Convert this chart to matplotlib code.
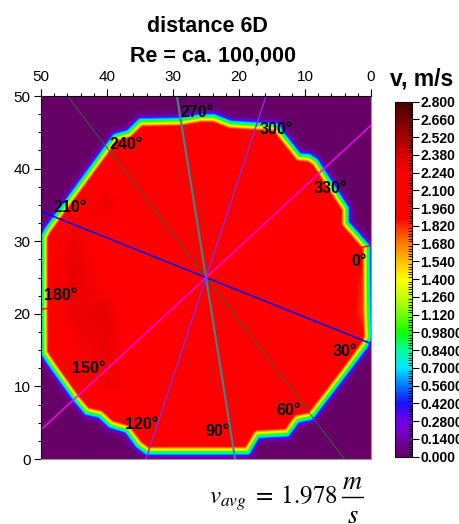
import numpy as np
import matplotlib
matplotlib.use("Agg")
import matplotlib.pyplot as plt
from matplotlib.colors import LinearSegmentedColormap
from matplotlib.lines import Line2D
from matplotlib.path import Path
from matplotlib.ticker import MultipleLocator

plt.rcParams['font.family'] = ['Liberation Sans', 'DejaVu Sans']
plt.rcParams['mathtext.fontset'] = 'stix'

# Outline of the flow cross-section (mid-level of the wall gradient), x/y in mm
edge_x = [0.4, 0.65, 3.9, 3.9, 8.5, 9.5, 11.0, 13.8, 14.3, 21.4, 23.9, 25.9,
          28.9, 35.0, 36.8, 38.8, 49.1, 49.6, 49.6, 48.6, 44.6, 43.1, 41.1,
          39.5, 37.0, 35.3, 34.0, 18.8, 17.3, 12.8, 11.3, 9.2, 0.9]
edge_y = [16.8, 29.2, 32.5, 34.5, 41.0, 41.6, 41.7, 44.9, 45.8, 46.2, 47.1, 47.1,
          46.6, 46.5, 44.9, 44.4, 31.5, 30.6, 14.6, 13.2, 8.1, 6.5, 6.1,
          4.7, 4.0, 1.9, 1.0, 1.0, 3.3, 3.5, 5.4, 5.8, 15.7]

# Core velocity on a coarse 5 mm grid, m/s (rows: y = 0..50, columns: x = 0..50)
core_x = [0, 5, 10, 15, 20, 25, 30, 35, 40, 45, 50]
core_y = [0, 5, 10, 15, 20, 25, 30, 35, 40, 45, 50]
core_v = [
    [2.10, 2.10, 2.10, 2.10, 2.10, 2.10, 2.10, 2.10, 2.10, 2.10, 2.10],
    [2.10, 2.10, 2.10, 2.10, 2.10, 2.10, 2.10, 2.12, 2.15, 2.12, 2.10],
    [2.10, 2.10, 2.10, 2.10, 2.10, 2.10, 2.10, 2.25, 2.28, 2.20, 2.10],
    [1.95, 2.10, 2.10, 2.10, 2.10, 2.10, 2.10, 2.18, 2.30, 2.25, 2.15],
    [1.70, 2.05, 2.10, 2.10, 2.10, 2.10, 2.10, 2.12, 2.32, 2.30, 2.20],
    [1.75, 2.05, 2.10, 2.10, 2.10, 2.10, 2.10, 2.12, 2.22, 2.32, 2.20],
    [2.00, 2.10, 2.10, 2.10, 2.10, 2.10, 2.10, 2.12, 2.20, 2.30, 2.20],
    [2.10, 2.10, 2.10, 2.10, 2.10, 2.10, 2.10, 2.15, 2.30, 2.22, 2.15],
    [2.10, 2.10, 2.10, 2.10, 2.10, 2.10, 2.10, 2.12, 2.20, 2.15, 2.10],
    [2.10, 2.10, 2.10, 2.10, 2.10, 2.10, 2.10, 2.10, 2.10, 2.10, 2.10],
    [2.10, 2.10, 2.10, 2.10, 2.10, 2.10, 2.10, 2.10, 2.10, 2.10, 2.10],
]

# Wall profile: fraction of core velocity vs. signed distance from the outline (mm)
wall_dist = [-1.8, -0.9, 0.0, 0.85]
wall_frac = [0.0, 0.04, 0.5, 1.0]

# Probe traverses through the pipe centre
probe_center = (25.0, 25.0)
probe_rotation = 10.0
probe_angles = [0, 30, 60, 90, 120, 150]
probe_colors = ['#ff0000', '#0000ff', '#3a5f3a', '#3a8a8a', '#8a2be2', '#ff00ff']
probe_widths = [1.0, 1.1, 0.7, 1.5, 1.0, 1.0]

# Angle labels
label_text = ['0°', '30°', '60°', '90°', '120°', '150°',
              '180°', '210°', '240°', '270°', '300°', '330°']
label_x = [1.8, 3.9, 12.5, 23.3, 34.8, 42.7, 47.0, 45.6, 37.1, 26.3, 14.4, 6.1]
label_y = [27.2, 14.8, 6.65, 3.8, 4.8, 12.5, 22.5, 34.6, 43.3, 47.75, 45.4, 37.3]

# Colour scale
cmap_levels = [0.00, 0.10, 0.20, 0.30, 0.42, 0.55, 0.70, 0.84, 0.98, 1.12, 1.26,
               1.40, 1.54, 1.68, 1.80, 1.88, 2.24, 2.38, 2.52, 2.66, 2.80]
cmap_colors = ['#660066', '#6c0092', '#7800c8', '#6a00f0', '#1a10ff', '#0070ff',
               '#00e8ff', '#00ffa0', '#10ff00', '#70ff00', '#c8ff00', '#ffff00',
               '#ffc000', '#ff7c00', '#ff3800', '#ff0000', '#ff0000', '#d80000',
               '#a80000', '#780000', '#4a0000']
cbar_ticks = [0.00, 0.14, 0.28, 0.42, 0.56, 0.70, 0.84, 0.98, 1.12, 1.26, 1.40,
              1.54, 1.68, 1.82, 1.96, 2.10, 2.24, 2.38, 2.52, 2.66, 2.80]
cbar_labels = ['0.000', '0.1400', '0.2800', '0.4200', '0.5600', '0.7000', '0.8400',
               '0.9800', '1.120', '1.260', '1.400', '1.540', '1.680', '1.820',
               '1.960', '2.100', '2.240', '2.380', '2.520', '2.660', '2.800']
vmin, vmax = 0.0, 2.8

# ---- velocity field on a fine grid ----
gx = np.linspace(0, 50, 501)
gy = np.linspace(0, 50, 501)
X, Y = np.meshgrid(gx, gy)

core = np.array(core_v)
rows = np.array([np.interp(gx, core_x, r) for r in core])
core_f = np.array([np.interp(gy, core_y, rows[:, j]) for j in range(gx.size)]).T

pts = np.column_stack([X.ravel(), Y.ravel()])
ex0 = np.array(edge_x)
ey0 = np.array(edge_y)
ex1 = np.roll(ex0, -1)
ey1 = np.roll(ey0, -1)
dmin = np.full(len(pts), np.inf)
for i in range(ex0.size):
    sx, sy = ex1[i] - ex0[i], ey1[i] - ey0[i]
    t = ((pts[:, 0] - ex0[i]) * sx + (pts[:, 1] - ey0[i]) * sy) / (sx * sx + sy * sy)
    t = np.clip(t, 0, 1)
    dmin = np.minimum(dmin, np.hypot(pts[:, 0] - (ex0[i] + t * sx),
                                     pts[:, 1] - (ey0[i] + t * sy)))
inside = Path(np.column_stack([ex0, ey0])).contains_points(pts)
signed = np.where(inside, dmin, -dmin).reshape(X.shape)
V = core_f * np.interp(signed, wall_dist, wall_frac)

cmap = LinearSegmentedColormap.from_list(
    'vel', [((lv - vmin) / (vmax - vmin), c) for lv, c in zip(cmap_levels, cmap_colors)], N=512)

# ---- figure ----
fig = plt.figure(figsize=(4.6, 5.24), dpi=100)
ax = fig.add_axes([0.0891, 0.124, 0.7174, 0.6927])

im = ax.imshow(V, origin='lower', extent=(0, 50, 0, 50), cmap=cmap,
               vmin=vmin, vmax=vmax, aspect='auto', interpolation='bilinear')

cx, cy = probe_center
for ang, col, lw in zip(probe_angles, probe_colors, probe_widths):
    phi = np.radians(probe_rotation - ang)
    dx, dy = -np.cos(phi), np.sin(phi)
    ax.plot([cx - 60 * dx, cx + 60 * dx], [cy - 60 * dy, cy + 60 * dy],
            color=col, lw=lw, solid_capstyle='butt')

for txt, lx, ly in zip(label_text, label_x, label_y):
    ax.text(lx, ly, txt, ha='center', va='center', fontsize=11.5,
            fontweight='bold', color='black')

ax.set_xlim(50, 0)
ax.set_ylim(0, 50)
ax.xaxis.tick_top()
ax.set_xticks([50, 40, 30, 20, 10, 0])
ax.set_yticks([0, 10, 20, 30, 40, 50])
ax.xaxis.set_minor_locator(MultipleLocator(2))
ax.yaxis.set_minor_locator(MultipleLocator(2.5))
ax.tick_params(axis='x', which='both', top=True, bottom=False, direction='out',
               labelsize=11, pad=4)
ax.tick_params(axis='y', which='both', left=True, right=False, direction='out',
               labelsize=11, pad=2.5)
ax.tick_params(which='major', length=5, width=0.8)
ax.tick_params(which='minor', length=2.5, width=0.8)
for side in ('top', 'left'):
    ax.spines[side].set_color('black')
    ax.spines[side].set_linewidth(0.8)
for side in ('bottom', 'right'):
    ax.spines[side].set_color('#999999')
    ax.spines[side].set_linewidth(0.8)

cax = fig.add_axes([0.8587, 0.1284, 0.037, 0.6775])
cb = fig.colorbar(im, cax=cax, ticks=cbar_ticks)
cb.ax.set_yticklabels(cbar_labels, fontsize=10, fontweight='bold')
cb.ax.yaxis.set_minor_locator(MultipleLocator(0.02))
cb.ax.tick_params(which='major', direction='out', length=5, width=0.8, pad=1)
cb.ax.tick_params(which='minor', direction='in', length=3, width=0.6)
cb.outline.set_linewidth(0.8)

fig.text(0.916, 0.849, 'v, m/s', ha='center', va='center', fontsize=16.5,
         fontweight='bold')
fig.text(0.451, 0.9395, 'distance 6D', ha='center', va='baseline', fontsize=15.5,
         fontweight='bold')
fig.text(0.464, 0.8823, 'Re = ca. 100,000', ha='center', va='baseline',
         fontsize=15.5, fontweight='bold')

# Average velocity, written as v_avg = 1.978 m/s with a stacked unit
fig.text(0.735, 0.038, r'$v_{avg}\;=\;1.978$', ha='right', va='baseline',
         fontsize=18)
fig.text(0.766, 0.066, r'$m$', ha='center', va='baseline', fontsize=19)
fig.add_artist(Line2D([0.743, 0.790], [0.0515, 0.0515], color='black', lw=1.0,
                      transform=fig.transFigure))
fig.text(0.766, 0.001, r'$s$', ha='center', va='baseline', fontsize=19)

fig.savefig('out.png', dpi=100)
